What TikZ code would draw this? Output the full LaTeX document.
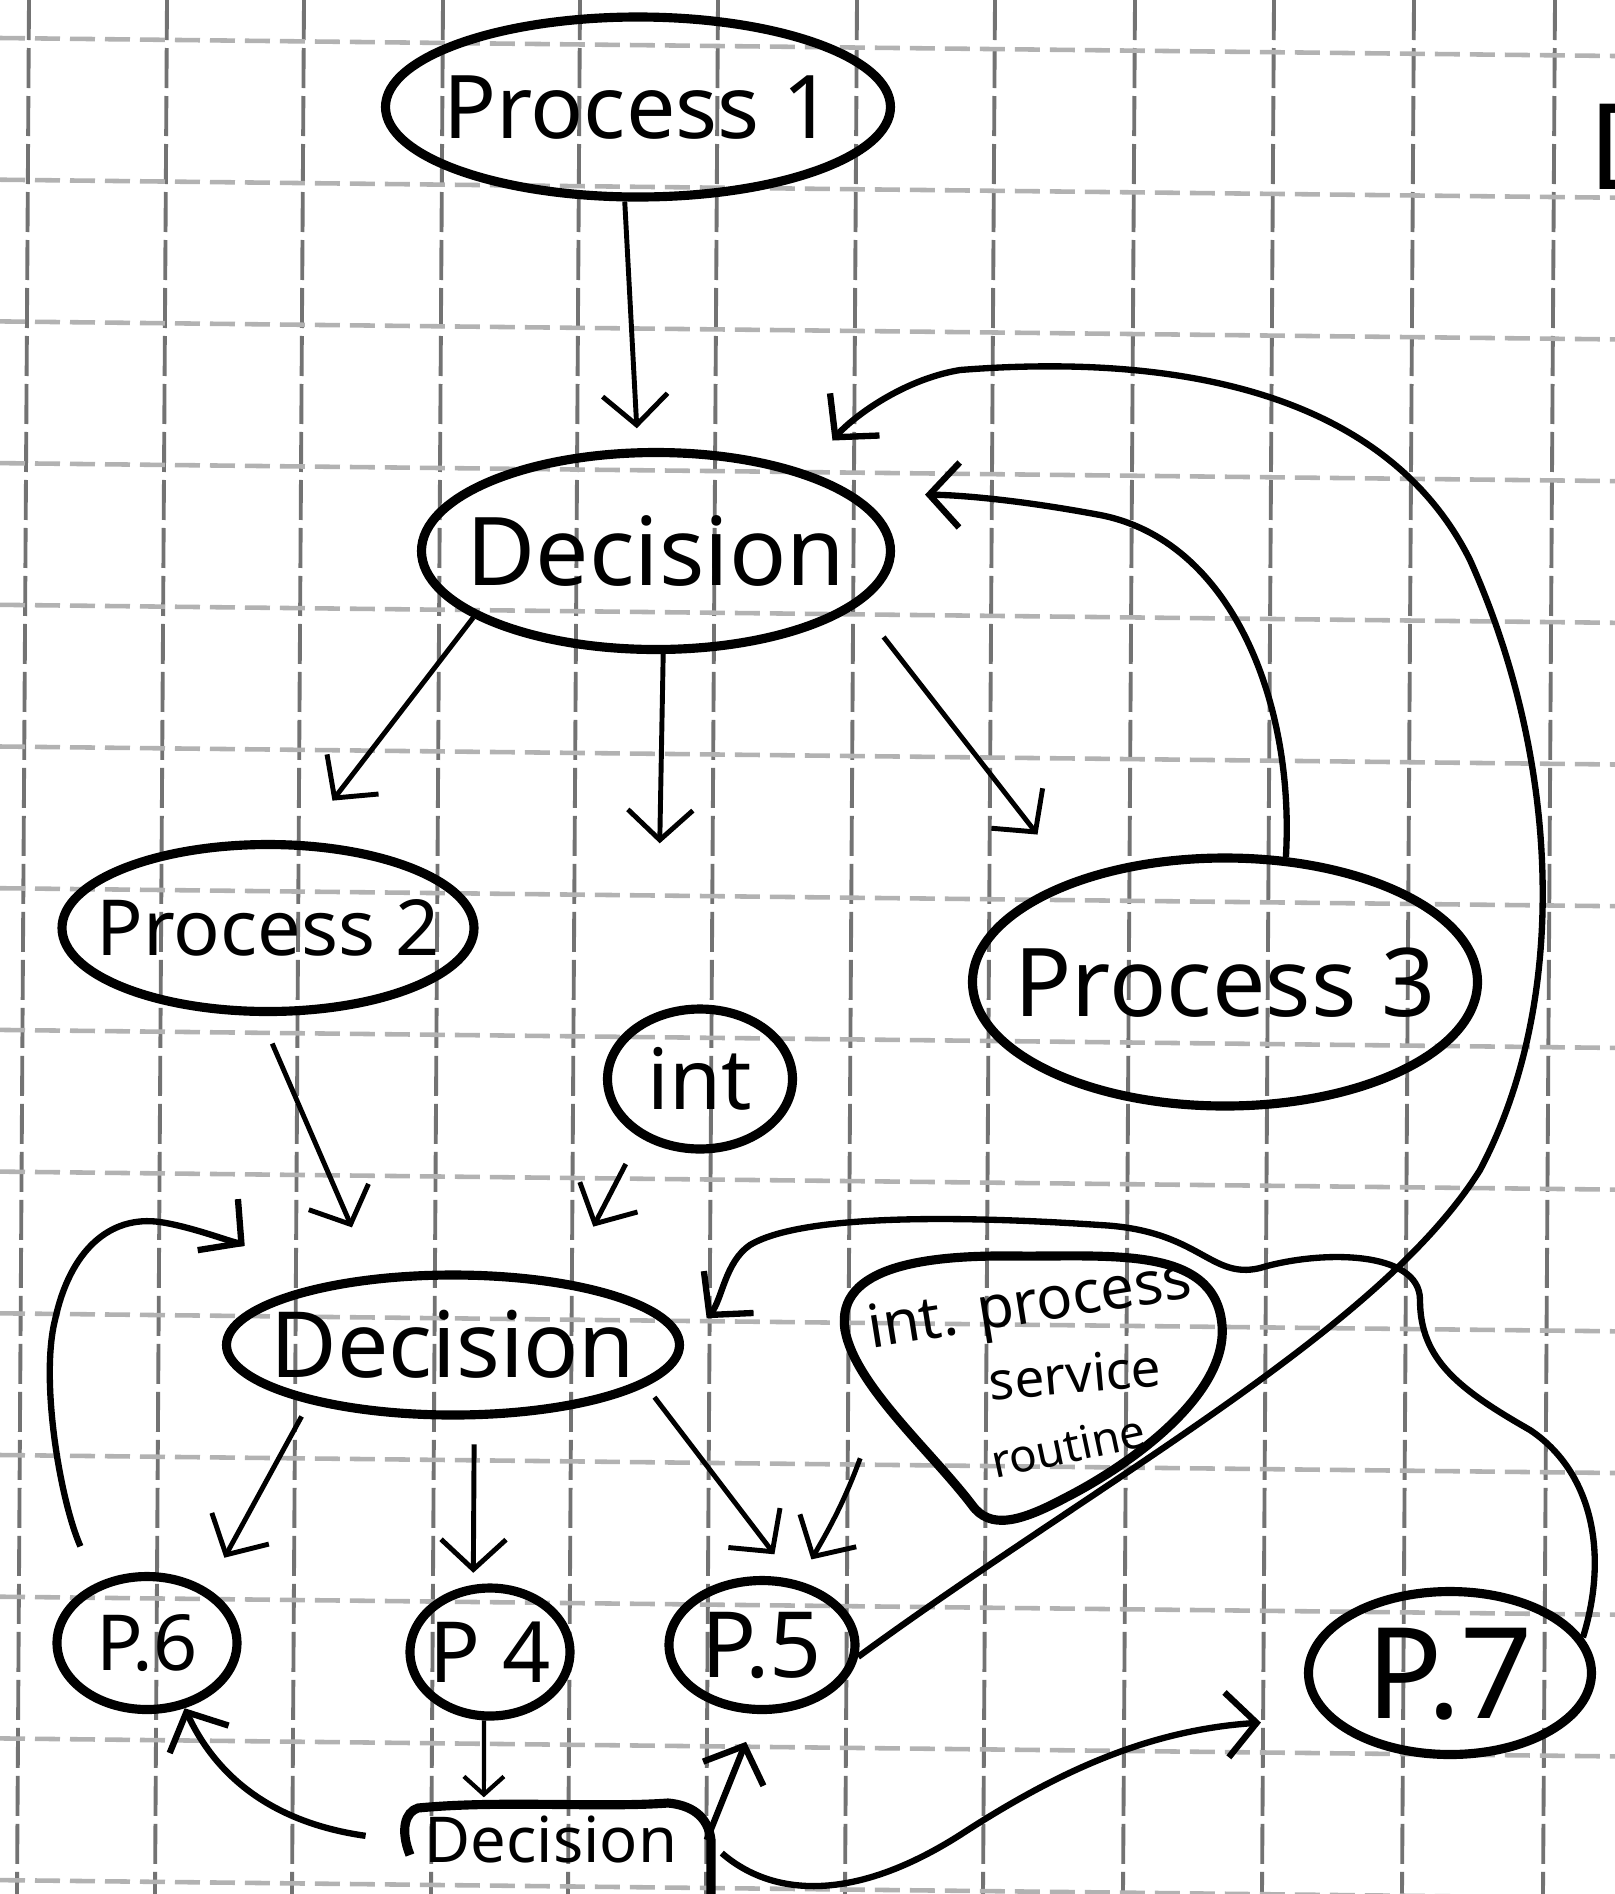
\documentclass[tikz,border=0pt]{standalone}
\usepackage{fontspec}
\setmainfont{Noto Sans}
\usetikzlibrary{shapes.geometric,arrows.meta,calc}
\newcommand{\ntext}[2]{\makebox[0pt]{\fontsize{#1}{#1}\selectfont\smash{\raisebox{-0.36em}{#2}}}}
\begin{document}
\begin{tikzpicture}[x=0.1mm,y=-0.1mm,
  gridv/.style={draw=black!55, line width=1.1pt, dash pattern=on 4mm off 0.8mm},
  gridh/.style={draw=black!30, line width=1.3pt, dash pattern=on 2.5mm off 1mm},
  outline/.style={draw=black, line width=2.6pt},
  ell/.style={outline, shape=ellipse, inner sep=0pt},
  ghost/.style={shape=ellipse, inner sep=0pt},
  arr/.style={line width=1.4pt, -{Straight Barb[length=3mm,width=6.5mm]}},
  sarr/.style={line width=1.2pt, -{Straight Barb[length=1.8mm,width=4mm]}},
  carr/.style={line width=1.8pt, -{Straight Barb[length=3mm,width=6.5mm]}}]
\useasboundingbox (0,0) rectangle (1615,1894);
\fill[white] (0,0) rectangle (1615,1894);
% graph paper
\foreach \x in {29,167,304,443,580,718,857,995,1135,1274,1414,1555}
  \draw[gridv] (\x,0) -- ({\x-12},1894);
\foreach \i in {0,...,13}
  \draw[gridh] (0,{38+141.7*\i}) -- (1615,{56+141.7*\i});

% nodes
\node[ell, minimum width=50.5mm, minimum height=18mm] (p1) at (638,107) {\ntext{25}{Process 1}};
\node[ell, minimum width=46.9mm, minimum height=19.7mm] (d1) at (656,551) {\ntext{27}{Decision}};
\node[ell, minimum width=41.2mm, minimum height=16.7mm] (p2) at (268,928) {\ntext{22}{Process 2}};
\node[ell, minimum width=50.5mm, minimum height=24.8mm] (p3) at (1225,982) {\ntext{27}{Process 3}};
\node[ell, minimum width=18.5mm, minimum height=14mm] (int) at (700,1079) {\ntext{24}{int}};
\node[ell, minimum width=45.3mm, minimum height=14mm] (d2) at (453,1345) {\ntext{26}{Decision}};
\node[ghost, minimum width=38mm, minimum height=26mm] (isr) at (1030,1385) {};
\draw[outline] (845,1330) .. controls (835,1265) and (930,1255) .. (1015,1256)
  .. controls (1110,1257) and (1215,1245) .. (1222,1325)
  .. controls (1228,1395) and (1130,1465) .. (1065,1498)
  .. controls (1020,1522) and (990,1530) .. (972,1505)
  .. controls (930,1450) and (855,1385) .. cycle;
\node[rotate=9] (isrA) at (1030,1308) {\fontsize{17}{17}\selectfont int. process};
\node[rotate=5] (isrB) at (1075,1374) {\fontsize{15}{15}\selectfont service};
\node[rotate=12, inner sep=1pt] (isrC) at (1068,1446) {\fontsize{13}{13}\selectfont routine};
\node[ell, minimum width=18mm, minimum height=13.3mm] (p6) at (147,1643) {\ntext{22}{P.6}};
\node[ell, minimum width=16mm, minimum height=12.8mm] (p4) at (490,1652) {\ntext{24}{P 4}};
\node[ell, minimum width=18.6mm, minimum height=12.9mm] (p5) at (762,1645) {\ntext{26}{P.5}};
\node[ell, minimum width=28.3mm, minimum height=16.3mm] (p7) at (1450,1673) {\ntext{36}{P.7}};
\node[shape=rectangle, inner sep=0pt, minimum width=31mm, minimum height=7mm] (d3) at (551,1840) {\ntext{18}{Decision}};
\draw[outline] (410,1855) .. controls (400,1830) and (405,1812) .. (418,1808)
  .. controls (500,1800) and (600,1808) .. (668,1803)
  .. controls (690,1805) and (708,1815) .. (711,1840) -- (711,1894);
\node[anchor=west, inner sep=0pt] (dfrag) at (1588,147) {\fontsize{34}{34}\selectfont D};

% connectors
\draw[arr, shorten >=2mm] (p1.262) -- (d1.100);
\draw[arr, shorten >=5.1mm] (d1.200) -- (p2.69.5);
\draw[arr, shorten >=16.9mm] (d1.274) -- (int.123);
\draw[arr, shorten <=4mm, shorten >=5.6mm] (d1.345.5) -- (p3.146.5);
\draw[arr, shorten <=3mm, shorten >=5.2mm] (p2.265) -- (d2.139.5);
\draw[arr, shorten <=3mm, shorten >=6mm] (int.224) -- (d2.30.8);
\draw[arr, shorten <=1.5mm, shorten >=3.5mm] (d2.202.4) -- (p6.42.9);
\draw[arr, shorten <=2.5mm, shorten >=1.2mm] (d2.286.8) -- (p4.104.3);
\draw[arr, shorten <=1.4mm, shorten >=3.2mm] (d2.348.3) -- (p5.64.5);
\draw[arr, shorten <=1mm, shorten >=2.5mm] (isr.201.5) to[out=-110, in=60] (p5.60);
\draw[sarr, shorten >=0.7mm] (p4.265) -- (d3.152.4);
\draw[carr, shorten <=3mm] (d3.west) to[out=172, in=-65] (p6.300);
\draw[carr, shorten >=3mm] (d3.east) -- (p5.266);
\draw[carr, shorten <=2mm, shorten >=6.5mm] (d3.east) .. controls (770,1895) and (850,1905) .. (960,1835)
  .. controls (1060,1770) and (1150,1730) .. (p7.200);
\draw[carr, shorten >=4mm] (p5.353) .. controls (1100,1480) and (1380,1330) .. (1480,1170)
  .. controls (1570,1000) and (1560,760) .. (1470,560)
  .. controls (1380,380) and (1150,355) .. (960,370)
  .. controls (900,380) and (850,420) .. (d1.28);
\draw[carr, shorten >=7mm] (p3.64) .. controls (1295,700) and (1230,540) .. (1100,515)
  .. controls (1020,500) and (960,495) .. (d1.16);
\draw[carr, shorten >=3.5mm] (p7.15) .. controls (1610,1550) and (1590,1470) .. (1530,1430)
  .. controls (1460,1390) and (1420,1360) .. (1420,1300)
  .. controls (1420,1250) and (1320,1250) .. (1260,1268)
  .. controls (1210,1280) and (1200,1230) .. (1100,1225)
  .. controls (950,1215) and (800,1215) .. (750,1245)
  .. controls (725,1262) and (722,1300) .. (d2.east);
\draw[carr, shorten <=4mm, shorten >=7mm] (p6.130) .. controls (60,1500) and (40,1380) .. (55,1320)
  .. controls (70,1250) and (110,1215) .. (160,1222)
  .. controls (200,1228) and (250,1250) .. (d2.160);
\end{tikzpicture}
\end{document}
